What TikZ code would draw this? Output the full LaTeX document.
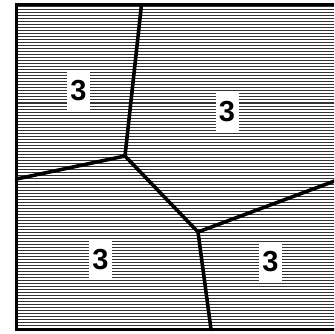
\documentclass[tikz,border=0pt]{standalone}
\usepackage{fontspec}
\setmainfont{Liberation Sans}
\tikzset{
  edge/.style={line width=3.6pt, line join=round, line cap=round},
  hatch/.style={line width=1pt, black!80},
  lbl/.style={fill=white, font=\fontsize{29}{29}\selectfont\bfseries, inner xsep=3pt, inner ysep=6pt, minimum width=23pt, minimum height=38pt}
}
\begin{document}
\begin{tikzpicture}[x=1pt,y=-1pt]
\useasboundingbox (0,0) rectangle (334,334);
\begin{scope}
\clip (0,0) rectangle (334,334);
\foreach \y in {7,10,...,328} { \draw[hatch] (17,\y) -- (340,\y); }
\draw[line width=3.6pt] (340,4.5) -- (16.5,4.5) -- (16.5,329.5) -- (340,329.5);
\coordinate (t) at (141.5,4.5);
\coordinate (a) at (125,156);
\coordinate (l) at (16.5,179);
\coordinate (b) at (198,232);
\coordinate (r) at (340,179);
\coordinate (d) at (211,329.5);
\draw[edge] (t) -- (a);
\draw[edge] (a) -- (l);
\draw[edge] (a) -- (b);
\draw[edge] (b) -- (r);
\draw[edge] (b) -- (d);
\end{scope}
\node[lbl] (n1) at (78.5,91) {3};
\node[lbl] (n2) at (227,112) {3};
\node[lbl] (n3) at (100.5,260) {3};
\node[lbl] (n4) at (270.5,262) {3};
\end{tikzpicture}
\end{document}
